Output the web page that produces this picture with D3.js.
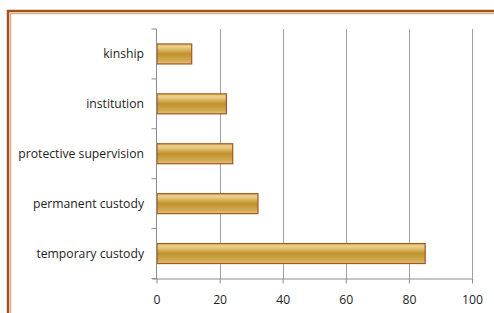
<!DOCTYPE html>
<html>
  <head>
    <meta charset="UTF-8" />
    <style>
      body {
        margin: 0;
        background: #fff;
        font-family: "Open Sans", sans-serif;
      }
      svg {
        display: block;
      }
    </style>
  </head>
  <body>
    <svg></svg>
    <script src="https://d3js.org/d3.v7.min.js"></script>
    <script>
      // Data
      let categories = [
        "kinship",
        "institution",
        "protective supervision",
        "permanent custody",
        "temporary custody",
      ];
      let values = [11, 22, 24, 32, 85];
      let xTicks = [0, 20, 40, 60, 80, 100];

      let width = 494,
        height = 313;

      let svg = d3
        .select("svg")
        .attr("width", width)
        .attr("height", height);

      // Frame
      svg
        .append("path")
        .attr("d", "M8," + height + "V11H" + width)
        .attr("fill", "none")
        .attr("stroke", "#a4521b")
        .attr("stroke-width", 2.5);
      svg
        .append("path")
        .attr("d", "M10.5," + height + "V13.5H" + width)
        .attr("fill", "none")
        .attr("stroke", "#dcae8a")
        .attr("stroke-width", 1.5);

      // Gradient for bars
      let grad = svg
        .append("defs")
        .append("linearGradient")
        .attr("id", "gold")
        .attr("x1", 0)
        .attr("y1", 0)
        .attr("x2", 0)
        .attr("y2", 1);
      grad.append("stop").attr("offset", "0%").attr("stop-color", "#e2c070");
      grad.append("stop").attr("offset", "15%").attr("stop-color", "#ecd08a");
      grad.append("stop").attr("offset", "50%").attr("stop-color", "#bf922c");
      grad.append("stop").attr("offset", "85%").attr("stop-color", "#d2ab55");
      grad.append("stop").attr("offset", "100%").attr("stop-color", "#e4c57a");

      let plotLeft = 156.5,
        plotRight = 472,
        plotTop = 29,
        plotBottom = 278.5;

      let x = d3.scaleLinear().domain([0, 100]).range([plotLeft, plotRight]);
      let y = d3
        .scaleBand()
        .domain(categories)
        .range([plotTop, plotBottom])
        .paddingInner(0.6)
        .paddingOuter(0.3);

      // Gridlines
      svg
        .append("g")
        .selectAll("line")
        .data(xTicks.slice(1))
        .enter()
        .append("line")
        .attr("x1", (d) => Math.round(x(d)) + 0.5)
        .attr("x2", (d) => Math.round(x(d)) + 0.5)
        .attr("y1", plotTop)
        .attr("y2", plotBottom)
        .attr("stroke", "#a0a0a0")
        .attr("stroke-width", 1);

      // Bars
      svg
        .append("g")
        .selectAll("rect")
        .data(values)
        .enter()
        .append("rect")
        .attr("x", x(0) + 0.5)
        .attr("y", (d, i) => y(categories[i]))
        .attr("width", (d) => x(d) - x(0))
        .attr("height", y.bandwidth())
        .attr("fill", "url(#gold)")
        .attr("stroke", "#a4561e")
        .attr("stroke-width", 1.2);

      // Y axis
      let yAxis = svg.append("g").attr("class", "axis");
      yAxis
        .append("line")
        .attr("x1", plotLeft)
        .attr("x2", plotLeft)
        .attr("y1", plotTop)
        .attr("y2", plotBottom)
        .attr("stroke", "#8c8c8c");
      let yTickPos = d3.range(categories.length + 1).map(
        (i) => plotTop + ((plotBottom - plotTop) * i) / categories.length
      );
      yAxis
        .selectAll(".yt")
        .data(yTickPos)
        .enter()
        .append("line")
        .attr("x1", plotLeft - 5)
        .attr("x2", plotLeft)
        .attr("y1", (d) => d)
        .attr("y2", (d) => d)
        .attr("stroke", "#8c8c8c");
      yAxis
        .selectAll("text")
        .data(categories)
        .enter()
        .append("text")
        .attr("x", 144)
        .attr("y", (d) => y(d) + y.bandwidth() / 2)
        .attr("dy", "0.35em")
        .attr("text-anchor", "end")
        .attr("font-size", 12.2)
        .attr("fill", "#1e1e1e")
        .text((d) => d);

      // X axis
      let xAxis = svg
        .append("g")
        .attr("transform", "translate(0," + plotBottom + ")")
        .call(
          d3
            .axisBottom(x)
            .tickValues(xTicks)
            .tickSize(5)
            .tickPadding(12)
        );
      xAxis
        .select(".domain")
        .attr("stroke", "#8c8c8c")
        .attr("d", "M" + (plotLeft - 4) + ",0.5H" + plotRight);
      xAxis.selectAll(".tick line").attr("stroke", "#8c8c8c");
      xAxis
        .selectAll("text")
        .attr("font-family", "Open Sans")
        .attr("font-size", 12.2)
        .attr("fill", "#1e1e1e");
    </script>
  </body>
</html>
